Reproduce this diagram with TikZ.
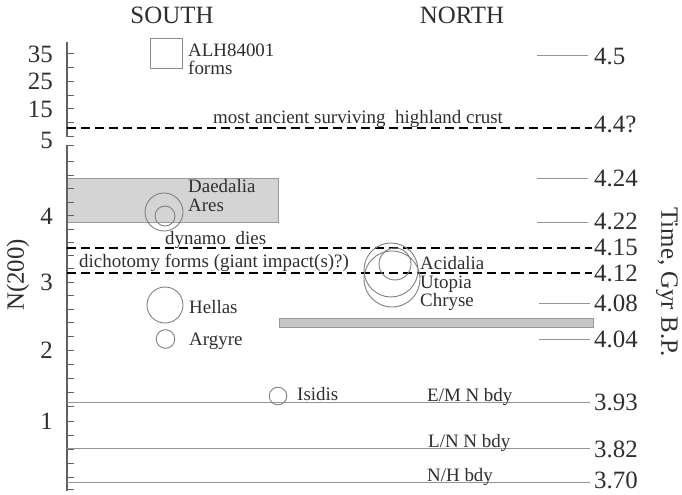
\documentclass[tikz,border=0pt]{standalone}
\usepackage{fontspec}
\setmainfont{Liberation Serif}
\begin{document}
\begin{tikzpicture}[x=1bp,y=-1bp,
  lbl/.style={font=\fontsize{19}{19}\selectfont, inner sep=0pt, anchor=base west, text=black!82},
  big/.style={font=\fontsize{25}{25}\selectfont, inner sep=0pt, text=black!82},
  thinline/.style={draw=black!42, line width=0.9bp},
  axisline/.style={draw=black!62, line width=1.3bp},
  dline/.style={draw=black, line width=2bp, dash pattern=on 9bp off 5bp},
  crat/.style={draw=black!50, line width=0.9bp},
]
\useasboundingbox (0,0) rectangle (682,495);

% shaded boxes
\draw[fill=black!17, draw=black!40, line width=0.8bp] (67,178) rectangle (278,222);
\draw[fill=black!22, draw=black!40, line width=0.8bp] (279,318) rectangle (593,327);
\draw[fill=white, draw=black!45, line width=0.9bp] (150,38) rectangle (182,68);

% axis
\draw[axisline] (67,42) -- (67,137);
\draw[axisline] (67,145) -- (67,491);
\foreach \y in {54,67.7,81.5,95.2,109,122.7,136.5}
  \draw[axisline, line width=1bp] (67,\y) -- (74,\y);
\foreach \y in {145.5,162,175.5,189,202.5,216,229.2,242.4,255.6,268.8,282,295.6,309.2,322.8,336.4,350,364.2,378.4,392.6,406.8,421,435,449,463,477,489}
  \draw[axisline, line width=1bp] (67,\y) -- (74,\y);

% boundary lines
\draw[thinline] (67,402.5) -- (590,402.5);
\draw[thinline] (67,448) -- (590,448);
\draw[thinline] (67,482) -- (590,482);

% short time marks
\draw[thinline] (537,55) -- (588,55);
\draw[thinline] (537,178) -- (588,178);
\draw[thinline] (537,222) -- (588,222);
\draw[thinline] (539,303) -- (590,303);
\draw[thinline] (539,339) -- (590,339);

% dashed lines
\draw[dline] (67,128) -- (592,128);
\draw[dline] (67,248) -- (592,248);
\draw[dline] (67,273) -- (592,273);

% craters
\draw[crat] (164,212) circle[radius=19];
\draw[crat] (165,216) circle[radius=10];
\draw[crat] (165,305) circle[radius=18];
\draw[crat] (165.5,339) circle[radius=9.3];
\draw[crat] (278,396) circle[radius=8.8];
\draw[crat] (391,270) circle[radius=27];
\draw[crat] (392,279) circle[radius=28];
\draw[crat] (395,264) circle[radius=16];

% titles
\node[big, anchor=base] (south) at (172,24) {SOUTH};
\node[big, anchor=base] (north) at (462,24) {NORTH};
\node[big, rotate=90] (ylab) at (18,275) {N(200)};
\node[big, rotate=-90] (tlab) at (667,282) {Time, Gyr B.P.};

% left axis numbers
\node[big, anchor=east] (n35) at (53,54) {35};
\node[big, anchor=east] (n25) at (53,81) {25};
\node[big, anchor=east] (n15) at (53,109) {15};
\node[big, anchor=east] (n5) at (53,140) {5};
\node[big, anchor=east] (n4) at (53,216) {4};
\node[big, anchor=east] (n3) at (53,282) {3};
\node[big, anchor=east] (n2) at (53,350) {2};
\node[big, anchor=east] (n1) at (53,421) {1};

% right time numbers
\node[big, anchor=west] (t45) at (594,56) {4.5};
\node[big, anchor=west] (t44) at (594,124) {4.4?};
\node[big, anchor=west] (t424) at (594,178) {4.24};
\node[big, anchor=west] (t422) at (594,221) {4.22};
\node[big, anchor=west] (t415) at (594,247.5) {4.15};
\node[big, anchor=west] (t412) at (594,273) {4.12};
\node[big, anchor=west] (t408) at (594,303) {4.08};
\node[big, anchor=west] (t404) at (594,339.5) {4.04};
\node[big, anchor=west] (t393) at (594,402.5) {3.93};
\node[big, anchor=west] (t382) at (594,449.5) {3.82};
\node[big, anchor=west] (t370) at (594,480.5) {3.70};

% labels
\node[lbl] (alh) at (188,57) {ALH84001};
\node[lbl] (forms) at (188,75) {forms};
\node[lbl] (crust) at (213,124) {most ancient surviving\ \ highland crust};
\node[lbl] (daed) at (188,193) {Daedalia};
\node[lbl] (ares) at (188,212) {Ares};
\node[lbl] (dyn) at (165,245) {dynamo\ \ dies};
\node[lbl] (dich) at (79,268) {dichotomy forms (giant impact(s)?)};
\node[lbl] (acid) at (420,270) {Acidalia};
\node[lbl] (utop) at (420,288) {Utopia};
\node[lbl] (chry) at (420,306) {Chryse};
\node[lbl] (hell) at (189,313) {Hellas};
\node[lbl] (argy) at (189,345) {Argyre};
\node[lbl] (isid) at (297,400) {Isidis};
\node[lbl] (em) at (427,401) {E/M N bdy};
\node[lbl] (ln) at (428,447) {L/N N bdy};
\node[lbl] (nh) at (427,481) {N/H bdy};
\end{tikzpicture}
\end{document}
